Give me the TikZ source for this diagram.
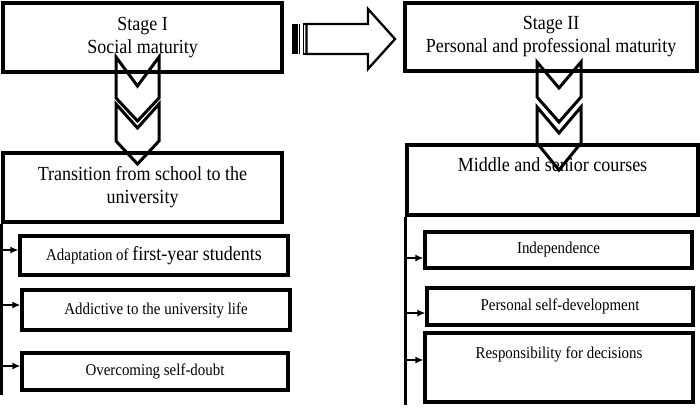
\documentclass[tikz,border=0pt]{standalone}
\usepackage{fontspec}
\setmainfont[FakeStretch=0.9]{Liberation Serif}
\usetikzlibrary{arrows.meta,calc}
\begin{document}
\begin{tikzpicture}[x=1pt,y=-1pt,
  bigbox/.style={draw, line width=3.2pt, inner sep=0pt, align=center, font=\fontsize{20}{23}\selectfont},
  subbox/.style={draw, line width=3.2pt, inner sep=0pt, align=center, font=\fontsize{16.6}{20}\selectfont},
  chev/.style={draw, line width=3pt, line join=miter},
  trunk/.style={line width=2.4pt},
  conn/.style={line width=1.5pt, -{Latex[length=8pt,width=7pt]}},
  blockarrow/.style={draw, line width=2.3pt, line join=miter},
]
\useasboundingbox (0,0) rectangle (700,410);

% main boxes
\node[bigbox, minimum width=279, minimum height=69] (s1) at (142.5,37.5) {Stage I\\Social maturity};
\node[bigbox, minimum width=292, minimum height=68] (s2) at (551,37) {Stage II\\Personal and professional maturity};
\node[bigbox, minimum width=279, minimum height=69] (tr) at (142.5,187.5) {Transition from school to the\\university};
\node[bigbox, minimum width=291, minimum height=70] (mid) at (552.5,180) {Middle and senior courses\\[7pt]~};

% sub boxes left
\node[subbox, minimum width=268, minimum height=39] (a1) at (154,255.5) {\fontsize{16.6}{20}\selectfont Adaptation of \fontsize{20}{23}\selectfont first-year students};
\node[subbox, minimum width=268, minimum height=40] (a2) at (156,310) {Addictive to the university life};
\node[subbox, minimum width=266, minimum height=37] (a3) at (155,371.5) {Overcoming self-doubt};

% sub boxes right
\node[subbox, minimum width=267, minimum height=36] (b1) at (558.5,250) {Independence};
\node[subbox, minimum width=266, minimum height=37] (b2) at (560,306.5) {Personal self-development};
\node[subbox, minimum width=268, minimum height=69] (b3) at (559,367.5) {Responsibility for decisions\\[10pt]~};

% trunks
\coordinate (tlb) at (5,395);
\coordinate (trb) at (408,405);
\draw[trunk] (tr.south west) -- (tr.south west |- tlb);
\draw[trunk] (mid.south west) -- (mid.south west |- trb);

% branch arrows
\coordinate (ya1) at (0,250);
\coordinate (ya2) at (0,305);
\coordinate (ya3) at (0,366);
\coordinate (yb1) at (0,258);
\coordinate (yb2) at (0,313);
\coordinate (yb3) at (0,360);
\draw[conn] (tr.south west |- ya1) -- (a1.west |- ya1);
\draw[conn] (tr.south west |- ya2) -- (a2.west |- ya2);
\draw[conn] (tr.south west |- ya3) -- (a3.west |- ya3);
\draw[conn] (mid.south west |- yb1) -- (b1.west |- yb1);
\draw[conn] (mid.south west |- yb2) -- (b2.west |- yb2);
\draw[conn] (mid.south west |- yb3) -- (b3.west |- yb3);

% chevrons left
\draw[chev] (116,57) -- (137.5,86) -- (159,57) -- (159,98) -- (137.5,121) -- (116,98) -- cycle;
\draw[chev] (116,104) -- (137.5,128) -- (159,104) -- (159,141) -- (137.5,164) -- (116,141) -- cycle;
% chevrons right
\draw[chev] (537,62) -- (559,88) -- (581,62) -- (581,97) -- (559,122) -- (537,97) -- cycle;
\draw[chev] (537,107) -- (559,133) -- (581,107) -- (581,143) -- (559,170) -- (537,143) -- cycle;

% striped block arrow
\fill (292,24) rectangle (298,54);
\draw[line width=1pt] (299.5,24) -- (299.5,54);
\draw[line width=1.4pt] (303.7,24) rectangle (306.5,54);
\draw[blockarrow] (306.5,24) -- (368,24) -- (368,9) -- (395,39) -- (368,69) -- (368,54) -- (306.5,54) -- cycle;
\end{tikzpicture}
\end{document}
